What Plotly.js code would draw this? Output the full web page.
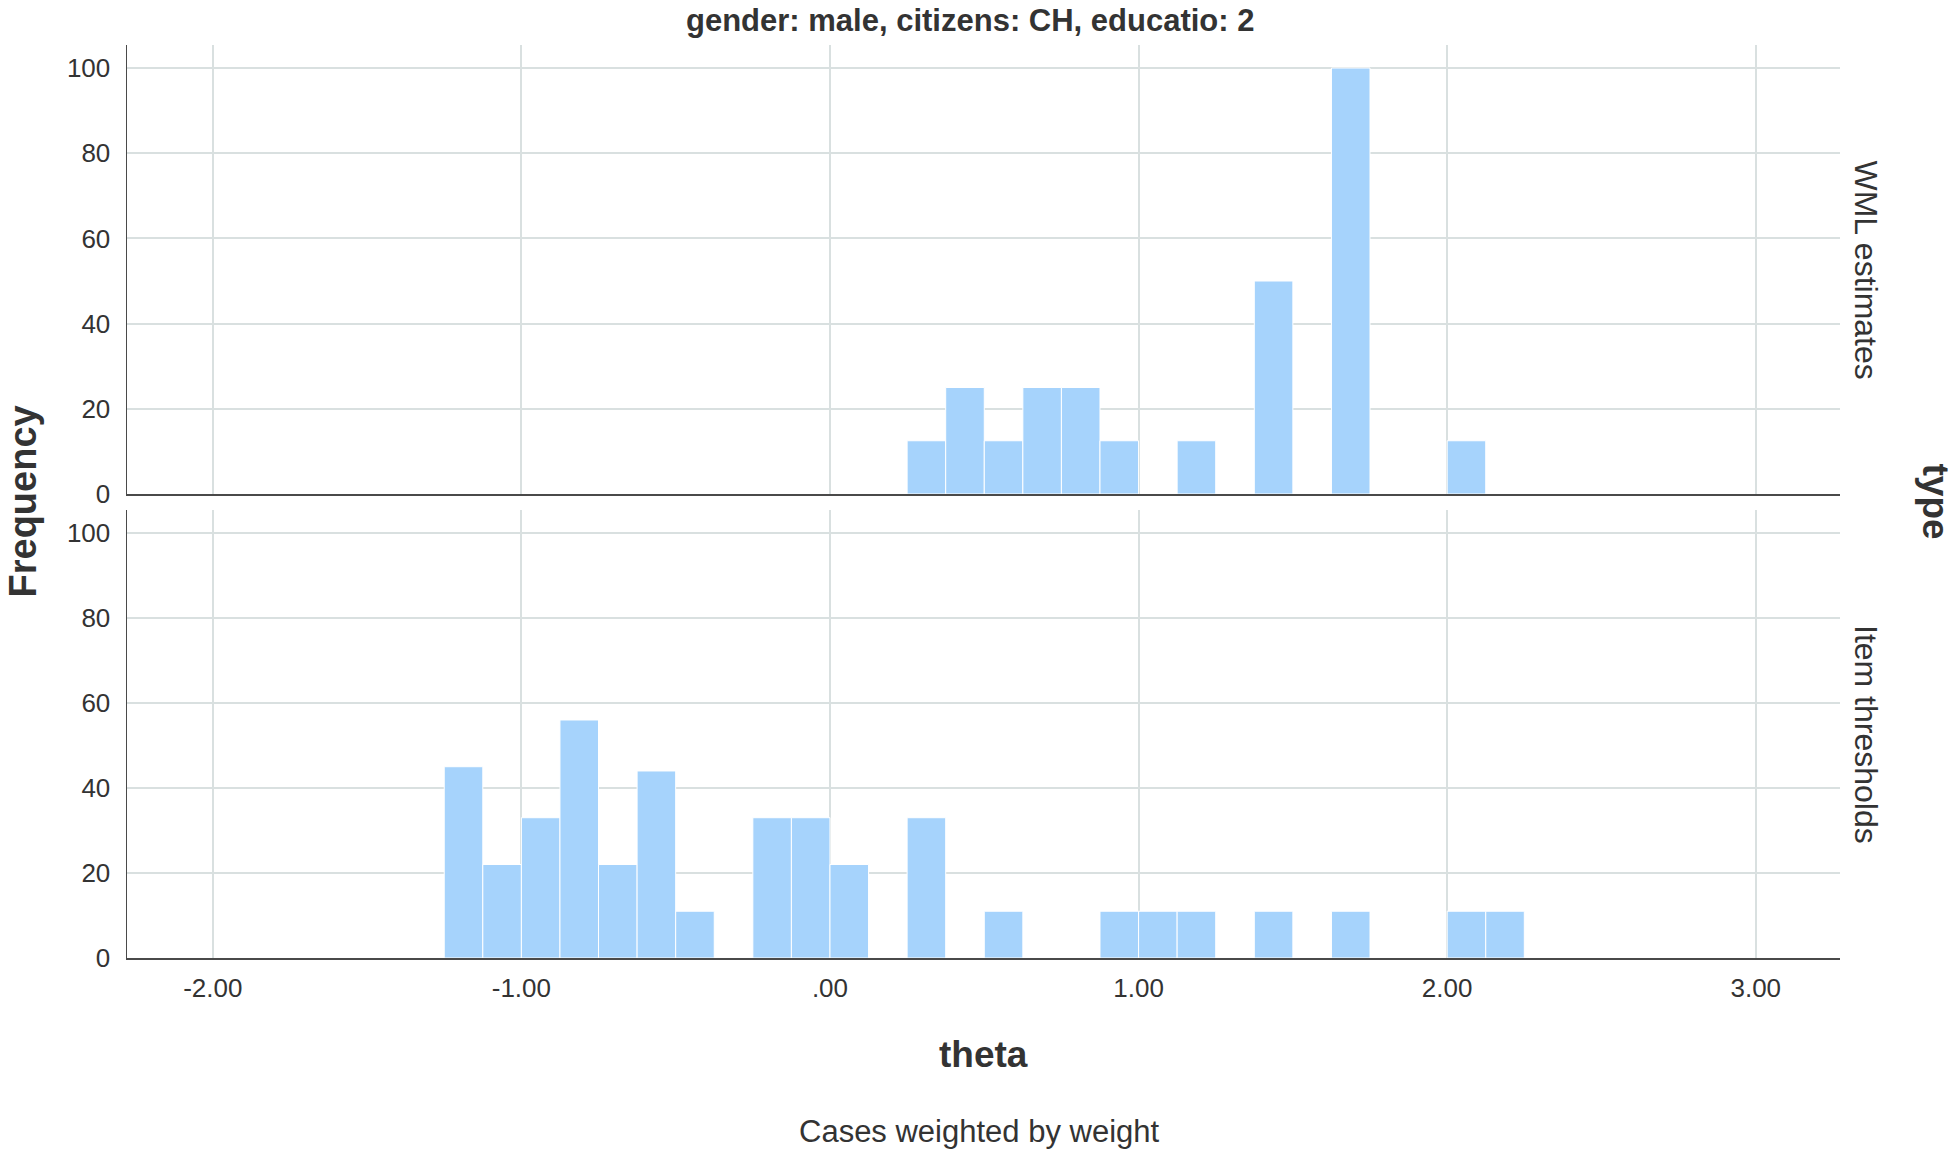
<!DOCTYPE html>
<html>
<head>
<meta charset="utf-8">
<script src="https://cdn.plot.ly/plotly-3.0.1.min.js"></script>
<style>html,body{margin:0;padding:0;background:#fff;}#chart{width:1960px;height:1153px;}</style>
</head>
<body>
<div id="chart"></div>
<script>
// ---- data ----
const binWidth = 0.125;
const wmlBinStart = [0.25, 0.375, 0.5, 0.625, 0.75, 0.875, 1.125, 1.375, 1.625, 2.0];
const wmlFreq     = [12.5, 25, 12.5, 25, 25, 12.5, 12.5, 50, 100, 12.5];
const thrBinStart = [-1.25, -1.125, -1.0, -0.875, -0.75, -0.625, -0.5, -0.25, -0.125, 0.0, 0.25, 0.5, 0.875, 1.0, 1.125, 1.375, 1.625, 2.0, 2.125];
const thrFreq     = [45, 22, 33, 56, 22, 44, 11, 33, 33, 22, 33, 11, 11, 11, 11, 11, 11, 11, 11];
const xTickVals = [-2, -1, 0, 1, 2, 3];
const xTickText = ['-2.00', '-1.00', '.00', '1.00', '2.00', '3.00'];
const yTickVals = [0, 20, 40, 60, 80, 100];
const panelLabels = ['WML estimates', 'Item thresholds'];
const chartTitle = 'gender: male, citizens: CH, educatio: 2';
const xTitle = 'theta';
const yTitle = 'Frequency';
const facetTitle = 'type';
const footnote = 'Cases weighted by weight';

// ---- styling ----
const FONT = '"Liberation Sans", Arial, Helvetica, sans-serif';
const TXT = '#333333';
const BAR = '#a6d3fc';
const GRID = '#d9e0e0';
const AXIS = '#4a4a4a';

const centers = (starts) => starts.map(s => s + binWidth / 2);

const traces = [
  {type: 'bar', x: centers(wmlBinStart), y: wmlFreq, width: binWidth,
   xaxis: 'x2', yaxis: 'y2',
   marker: {color: BAR, line: {color: '#ffffff', width: 1}}, hoverinfo: 'x+y', showlegend: false},
  {type: 'bar', x: centers(thrBinStart), y: thrFreq, width: binWidth,
   xaxis: 'x', yaxis: 'y',
   marker: {color: BAR, line: {color: '#ffffff', width: 1}}, hoverinfo: 'x+y', showlegend: false}
];

const topDom = [0.5082, 1];
const botDom = [0, 0.4907];
const xRange = [-2.278, 3.273];
const yRange = [0, 105.4];

const xCommon = {
  range: xRange, tickvals: xTickVals, ticktext: xTickText,
  showgrid: true, gridcolor: GRID, gridwidth: 2,
  zeroline: false, showline: true, linecolor: AXIS, linewidth: 1.5,
  ticks: '', tickfont: {family: FONT, size: 26, color: TXT}
};
const yCommon = {
  range: yRange, tickvals: yTickVals,
  showgrid: true, gridcolor: GRID, gridwidth: 2,
  zeroline: false, showline: true, linecolor: AXIS, linewidth: 1.5,
  ticks: '', ticklabelstandoff: 10, tickfont: {family: FONT, size: 26, color: TXT}
};

const ann = (text, x, y, xshift, yshift, angle, size, bold) => ({
  text: text, xref: 'paper', yref: 'paper', x: x, y: y,
  xanchor: 'center', yanchor: 'middle', xshift: xshift, yshift: yshift, textangle: angle,
  showarrow: false, font: {family: FONT, size: size, color: TXT, weight: bold ? 'bold' : 'normal'}
});

const layout = {
  width: 1960, height: 1153,
  margin: {l: 127, r: 120, t: 45, b: 195},
  paper_bgcolor: '#ffffff', plot_bgcolor: '#ffffff',
  bargap: 0,
  xaxis: Object.assign({}, xCommon, {anchor: 'y', domain: [0, 1], ticklabelstandoff: 6}),
  xaxis2: Object.assign({}, xCommon, {anchor: 'y2', domain: [0, 1], matches: 'x', showticklabels: false}),
  yaxis: Object.assign({}, yCommon, {anchor: 'x', domain: botDom}),
  yaxis2: Object.assign({}, yCommon, {anchor: 'x2', domain: topDom}),
  annotations: [
    ann(chartTitle, 0.5, 1, -14, 25, 0, 31, true),
    ann(yTitle, 0, 0.5, -105, 0, -90, 38, true),
    ann(xTitle, 0.5, 0, 0, -96, 0, 37, true),
    ann(footnote, 0.5, 0, -4, -173, 0, 31, false),
    ann(facetTitle, 1, 0.5, 95, 0, 90, 37, true),
    ann(panelLabels[0], 1, (topDom[0] + topDom[1]) / 2, 26, 0, 90, 32, false),
    ann(panelLabels[1], 1, (botDom[0] + botDom[1]) / 2, 26, 0, 90, 32, false)
  ]
};

Plotly.newPlot('chart', traces, layout, {displayModeBar: false, staticPlot: true});
</script>
</body>
</html>
